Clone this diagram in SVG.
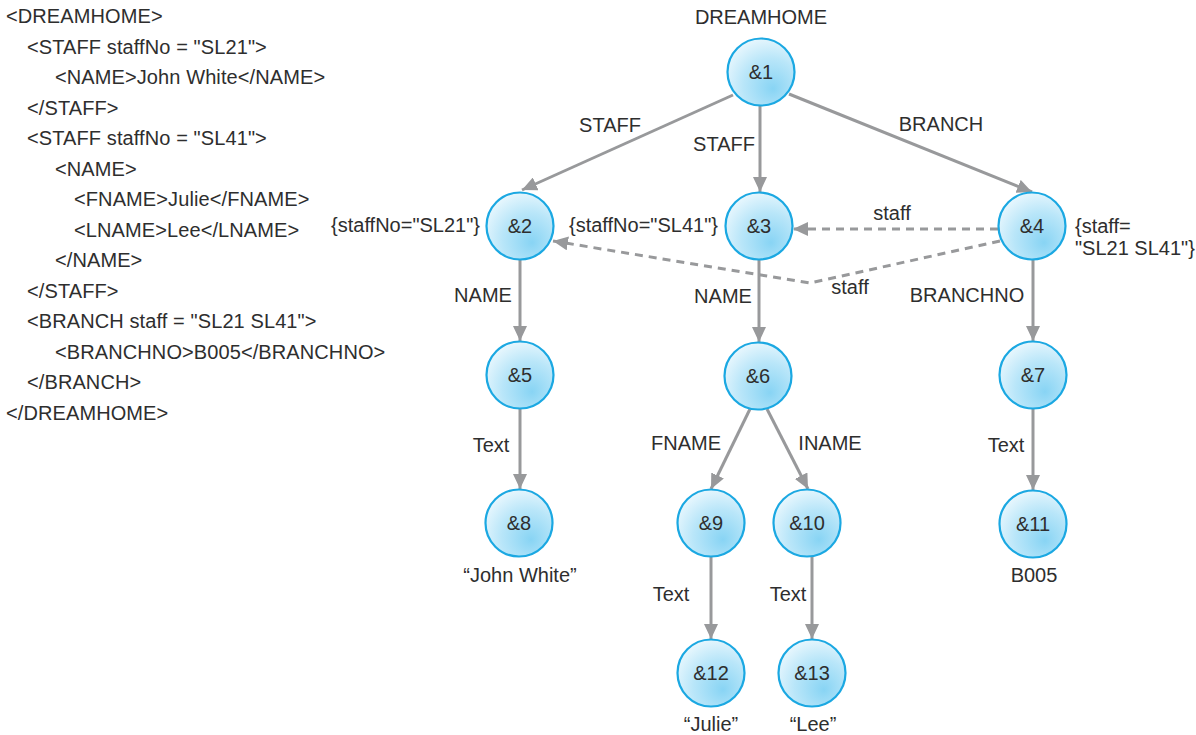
<svg xmlns="http://www.w3.org/2000/svg" width="1196" height="735" viewBox="0 0 1196 735">
<style>
text{font-family:"Liberation Sans",Arial,sans-serif;font-size:20px;fill:#2e2e2e}
#xml text{letter-spacing:0.1px}
.m{text-anchor:middle}
.e{stroke:#98999b;stroke-width:3;fill:none}
.d{stroke:#98999b;stroke-width:3;fill:none;stroke-dasharray:8 6}
.n{fill:url(#g);stroke:#1ba8e2;stroke-width:2.2}
</style>
<defs>
<radialGradient id="g" cx="0.62" cy="0.68" r="0.75" fx="0.68" fy="0.75">
<stop offset="0" stop-color="#88d4f4"/>
<stop offset="0.55" stop-color="#b9e6f9"/>
<stop offset="1" stop-color="#eef9fe"/>
</radialGradient>
<marker id="a" markerUnits="userSpaceOnUse" markerWidth="16" markerHeight="14" refX="15" refY="7" orient="auto">
<path d="M0,0 L15,7 L0,14 Z" fill="#98999b"/>
</marker>
</defs>
<g id="xml">
<text x="6" y="23">&lt;DREAMHOME&gt;</text>
<text x="27" y="53.5">&lt;STAFF staffNo = "SL21"&gt;</text>
<text x="55" y="84">&lt;NAME&gt;John White&lt;/NAME&gt;</text>
<text x="27" y="114.5">&lt;/STAFF&gt;</text>
<text x="27" y="145">&lt;STAFF staffNo = "SL41"&gt;</text>
<text x="55" y="175.5">&lt;NAME&gt;</text>
<text x="74" y="206">&lt;FNAME&gt;Julie&lt;/FNAME&gt;</text>
<text x="74" y="236.5">&lt;LNAME&gt;Lee&lt;/LNAME&gt;</text>
<text x="55" y="267">&lt;/NAME&gt;</text>
<text x="27" y="297.5">&lt;/STAFF&gt;</text>
<text x="27" y="328">&lt;BRANCH staff = "SL21 SL41"&gt;</text>
<text x="55" y="358.5">&lt;BRANCHNO&gt;B005&lt;/BRANCHNO&gt;</text>
<text x="27" y="389">&lt;/BRANCH&gt;</text>
<text x="6" y="419.5">&lt;/DREAMHOME&gt;</text>
</g>
<g id="connectors">
<line class="e" x1="733" y1="95" x2="522" y2="190" marker-end="url(#a)"/>
<line class="e" x1="760" y1="106" x2="760" y2="192" marker-end="url(#a)"/>
<line class="e" x1="789" y1="94" x2="1032" y2="192" marker-end="url(#a)"/>
<line class="e" x1="520" y1="260" x2="520" y2="341" marker-end="url(#a)"/>
<line class="e" x1="759" y1="260" x2="759" y2="342" marker-end="url(#a)"/>
<line class="e" x1="1033" y1="259" x2="1033" y2="341" marker-end="url(#a)"/>
<line class="e" x1="520" y1="409" x2="520" y2="489" marker-end="url(#a)"/>
<line class="e" x1="750" y1="409" x2="711" y2="489" marker-end="url(#a)"/>
<line class="e" x1="767" y1="409" x2="808" y2="489" marker-end="url(#a)"/>
<line class="e" x1="1033" y1="409" x2="1033" y2="490" marker-end="url(#a)"/>
<line class="e" x1="711" y1="557" x2="711" y2="639" marker-end="url(#a)"/>
<line class="e" x1="812" y1="557" x2="812" y2="639" marker-end="url(#a)"/>
<line class="d" x1="998" y1="229" x2="793" y2="229" marker-end="url(#a)"/>
<polyline class="d" points="1000,241 810,283 553,241" marker-end="url(#a)"/>
<text class="m" x="610" y="132">STAFF</text>
<text class="m" x="724" y="151">STAFF</text>
<text class="m" x="941" y="131">BRANCH</text>
<text class="m" x="892" y="220">staff</text>
<text class="m" x="850" y="294">staff</text>
<text class="m" x="483" y="302">NAME</text>
<text class="m" x="723" y="303">NAME</text>
<text class="m" x="967" y="302">BRANCHNO</text>
<text class="m" x="491" y="452">Text</text>
<text class="m" x="686" y="450">FNAME</text>
<text class="m" x="830" y="450">INAME</text>
<text class="m" x="1006" y="452">Text</text>
<text class="m" x="671" y="601">Text</text>
<text class="m" x="788" y="601">Text</text>
</g>
<g id="n1"><circle class="n" cx="761" cy="72" r="33.5"/><text class="m" x="761" y="79">&amp;1</text><text class="m" x="761" y="24">DREAMHOME</text></g>
<g id="n2"><circle class="n" cx="520" cy="226" r="33.5"/><text class="m" x="520" y="233">&amp;2</text><text x="480" y="232" text-anchor="end">{staffNo="SL21"}</text></g>
<g id="n3"><circle class="n" cx="759" cy="226" r="33.5"/><text class="m" x="759" y="233">&amp;3</text><text x="569" y="232">{staffNo="SL41"}</text></g>
<g id="n4"><circle class="n" cx="1032" cy="226" r="33.5"/><text class="m" x="1032" y="233">&amp;4</text><text x="1075" y="233">{staff=</text><text x="1075" y="255">"SL21 SL41"}</text></g>
<g id="n5"><circle class="n" cx="520" cy="375" r="33.5"/><text class="m" x="520" y="382">&amp;5</text></g>
<g id="n6"><circle class="n" cx="758" cy="376" r="33.5"/><text class="m" x="758" y="383">&amp;6</text></g>
<g id="n7"><circle class="n" cx="1033" cy="375" r="33.5"/><text class="m" x="1033" y="382">&amp;7</text></g>
<g id="n8"><circle class="n" cx="519" cy="523" r="33.5"/><text class="m" x="519" y="530">&amp;8</text><text class="m" x="520" y="582">“John White”</text></g>
<g id="n9"><circle class="n" cx="711" cy="523" r="33.5"/><text class="m" x="711" y="530">&amp;9</text></g>
<g id="n10"><circle class="n" cx="807" cy="523" r="33.5"/><text class="m" x="807" y="530">&amp;10</text></g>
<g id="n11"><circle class="n" cx="1033" cy="524" r="33.5"/><text class="m" x="1033" y="531">&amp;11</text><text class="m" x="1034" y="582">B005</text></g>
<g id="n12"><circle class="n" cx="711" cy="673" r="33.5"/><text class="m" x="711" y="680">&amp;12</text><text class="m" x="711" y="731">“Julie”</text></g>
<g id="n13"><circle class="n" cx="812" cy="673" r="33.5"/><text class="m" x="812" y="680">&amp;13</text><text class="m" x="813" y="731">“Lee”</text></g>
</svg>
